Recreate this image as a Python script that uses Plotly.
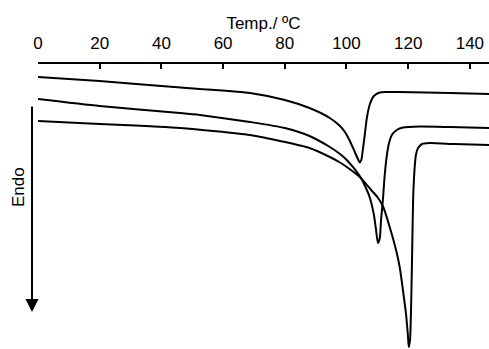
import plotly.graph_objects as go

# Temperature (°C) and heat flow (arbitrary units, endo down) for three DSC traces
temp_a = [0, 20, 40, 52.5, 68.7, 80, 88, 94.6, 97.9, 99.5, 101.1, 102.7, 103.7, 104.3,
          104.8, 105.3, 106.0, 106.6, 107.6, 108.9, 110.8, 113, 117.3, 133.5, 146.2]
flow_a = [-1.3, -1.7, -2.2, -2.5, -2.9, -3.6, -4.4, -5.4, -6.2, -6.8, -7.7, -8.8, -9.5, -9.85,
          -9.6, -8.6, -6.9, -5.4, -4.0, -3.2, -2.85, -2.8, -2.8, -2.9, -3.0]

temp_b = [0, 20, 46, 52.5, 68.7, 80, 88, 94.6, 97.9, 100.1, 104.3, 106.6, 107.6, 108.9, 109.5,
          110.2, 110.8, 111.2, 111.8, 112.4, 113.1, 113.8, 114.7, 116.3, 118.3, 123.8, 133.5, 146.2]
flow_b = [-3.5, -4.2, -4.9, -5.1, -5.8, -6.4, -7.2, -8.3, -9.0, -9.6, -11.2, -12.6, -13.4, -15.1, -16.4,
          -17.9, -17.4, -15.6, -13.6, -11.1, -9.1, -7.9, -7.1, -6.6, -6.35, -6.25, -6.3, -6.4]

temp_c = [0, 20, 46, 68.7, 80, 88, 94.6, 97.9, 100.1, 104.3, 108, 110, 111.8, 114.1, 116.3, 117.3,
          118.3, 119.3, 119.9, 120.2, 120.6, 121.0, 121.3, 121.6, 122.0, 122.5, 123.2, 124.5,
          127, 135, 146.2]
flow_c = [-5.7, -6.0, -6.4, -7.1, -7.8, -8.4, -9.3, -9.85, -10.3, -11.3, -12.6, -13.3, -14.2, -16.4, -18.9, -20.4,
          -22.6, -25.0, -27.1, -28.3, -27.6, -23.6, -18.6, -13.6, -10.8, -9.1, -8.4, -8.0,
          -7.9, -8.0, -8.1]

x_ticks = [0, 20, 40, 60, 80, 100, 120, 140]

FONT = "Liberation Sans, Arial, sans-serif"

fig = go.Figure()
for t, f in [(temp_a, flow_a), (temp_b, flow_b), (temp_c, flow_c)]:
    fig.add_trace(go.Scatter(x=t, y=f, mode="lines",
                             line=dict(color="black", width=2, shape="spline", smoothing=0.6),
                             showlegend=False, hoverinfo="skip", cliponaxis=False))

fig.update_layout(
    width=489, height=349,
    margin=dict(l=38, r=0, t=64, b=0),
    paper_bgcolor="white", plot_bgcolor="white",
    font=dict(family=FONT, size=17, color="black"),
    xaxis=dict(side="top", range=[0, 146.2], tickvals=x_ticks, automargin=False,
               showline=True, linecolor="black", linewidth=2,
               ticks="inside", ticklen=5, tickwidth=2, tickcolor="black",
               showgrid=False, zeroline=False,
               ticklabelstandoff=6,
               title=dict(text="Temp./ ºC", font=dict(size=17), standoff=0)),
    yaxis=dict(visible=False, range=[-28.5, 0], fixedrange=True, automargin=False),
)

# Endo arrow
fig.add_annotation(xref="paper", yref="y", x=-6/451, y=-24.8,
                   ax=0, ay=-207, axref="pixel", ayref="pixel",
                   text="", showarrow=True, arrowhead=2, arrowsize=1.3,
                   arrowwidth=2, arrowcolor="black")
fig.add_annotation(xref="paper", yref="y", x=-20/451, y=-12.3,
                   xanchor="center", yanchor="middle",
                   text="Endo", textangle=-90, showarrow=False,
                   font=dict(size=17, color="black"))

fig.write_html("out.html", config={"displayModeBar": False, "staticPlot": True},
               post_script="document.body.style.margin='0';document.body.style.overflow='hidden';")
